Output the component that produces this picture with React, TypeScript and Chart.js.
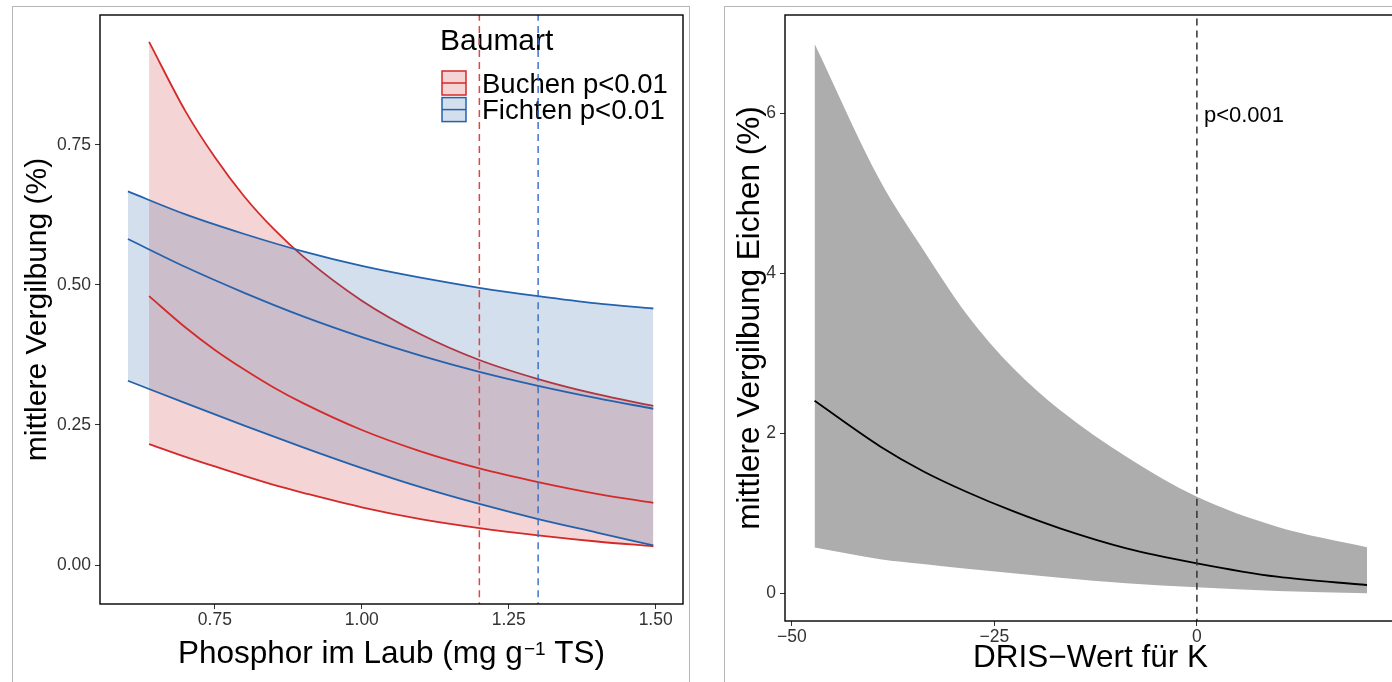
import React, { useEffect, useRef } from 'react';
import { Chart, registerables } from 'chart.js';

Chart.register(...registerables);

const FONT = "'Liberation Sans', Arial, Helvetica, sans-serif";

// ---------- left chart data (Phosphor im Laub) ----------
const BUCHEN_X = [0.638, 0.70, 0.75, 0.80, 0.85, 0.90, 1.00, 1.10, 1.20, 1.30, 1.40, 1.496];
const BUCHEN_UPPER = [0.934, 0.810, 0.728, 0.658, 0.600, 0.551, 0.472, 0.412, 0.366, 0.332, 0.305, 0.284];
const BUCHEN_MEAN = [0.480, 0.424, 0.384, 0.349, 0.317, 0.289, 0.241, 0.203, 0.1725, 0.148, 0.127, 0.111];
const BUCHEN_LOWER = [0.216, 0.193, 0.176, 0.159, 0.143, 0.129, 0.103, 0.082, 0.066, 0.053, 0.042, 0.0335];

const FICHTEN_X = [0.602, 0.70, 0.80, 0.90, 1.00, 1.10, 1.20, 1.30, 1.40, 1.496];
const FICHTEN_UPPER = [0.667, 0.626, 0.591, 0.560, 0.534, 0.513, 0.495, 0.480, 0.467, 0.458];
const FICHTEN_MEAN = [0.582, 0.532, 0.486, 0.444, 0.407, 0.374, 0.345, 0.320, 0.298, 0.279];
const FICHTEN_LOWER = [0.329, 0.289, 0.249, 0.210, 0.173, 0.139, 0.109, 0.082, 0.058, 0.035];

const THRESH_BUCHEN = 1.2;
const THRESH_FICHTEN = 1.3;

const P_X_TICKS = [0.75, 1.0, 1.25, 1.5];
const P_Y_TICKS = [0, 0.25, 0.5, 0.75];
const P_X_RANGE = [0.5545, 1.5465];
const P_Y_RANGE = [-0.0696, 0.982];

const LEGEND_TITLE = 'Baumart';
const LEGEND_LABELS = ['Buchen p<0.01', 'Fichten p<0.01'];

const LEFT_Y_TITLE = 'mittlere Vergilbung (%)';
const LEFT_X_TITLE_A = 'Phosphor im Laub (mg g';
const LEFT_X_TITLE_SUP = '\u22121';
const LEFT_X_TITLE_C = ' TS)';

// ---------- right chart data (DRIS-Wert für K) ----------
const EICHEN_X = [-47.2, -39.1, -33.8, -28.4, -22.7, -16.9, -8.7, 0, 9.9, 21.0];
const EICHEN_UPPER = [6.874, 5.16, 4.30, 3.49, 2.82, 2.295, 1.71, 1.21, 0.836, 0.579];
const EICHEN_MEAN = [2.41, 1.84, 1.53, 1.27, 1.03, 0.816, 0.566, 0.379, 0.211, 0.1075];
const EICHEN_LOWER = [0.576, 0.43, 0.37, 0.31, 0.255, 0.199, 0.129, 0.079, 0.033, 0.004];

const THRESH_K = 0;
const P_LABEL = 'p<0.001';
const P_LABEL_Y = 5.97;

const K_X_TICKS = [-50, -25, 0];
const K_Y_TICKS = [0, 2, 4, 6];
const K_X_RANGE = [-50.85, 24.58];
const K_Y_RANGE = [-0.3425, 7.2325];

const RIGHT_Y_TITLE = 'mittlere Vergilbung Eichen (%)';
const RIGHT_X_TITLE = 'DRIS\u2212Wert für K';

// ---------- styles ----------
const RED = '#d42a2a';
const BLUE = '#2562ae';
const RED_FILL = 'rgba(200,40,40,0.2)';
const BLUE_FILL = 'rgba(35,95,160,0.2)';
const RED_DASH = 'rgba(222,60,60,0.95)';
const BLUE_DASH = 'rgba(55,110,195,0.95)';

const zip = (xs: number[], ys: number[]) => xs.map((x, i) => ({ x, y: ys[i] }));

const tickFont = { family: FONT, size: 17.5 };

const boxPlugin = {
  id: 'panelBox',
  afterDatasetsDraw(chart: any) {
    const { ctx, chartArea: a } = chart;
    ctx.save();
    ctx.strokeStyle = '#000';
    ctx.lineWidth = 1.4;
    ctx.strokeRect(a.left, a.top, a.right - a.left, a.bottom - a.top);
    ctx.restore();
  },
};

const legendPlugin = {
  id: 'ggLegend',
  beforeDatasetsDraw(chart: any) {
    const { ctx } = chart;
    ctx.save();
    ctx.textBaseline = 'alphabetic';
    ctx.fillStyle = '#000';
    ctx.font = `30px ${FONT}`;
    ctx.fillText(LEGEND_TITLE, 440, 49.5);
    const fills = [RED_FILL, BLUE_FILL];
    const lines = [RED, BLUE];
    LEGEND_LABELS.forEach((lab, i) => {
      const y0 = 71 + i * 26.6;
      ctx.fillStyle = '#fff';
      ctx.fillRect(442, y0, 24, 24);
      ctx.fillStyle = fills[i];
      ctx.fillRect(442, y0, 24, 24);
      ctx.strokeStyle = lines[i];
      ctx.lineWidth = 1.5;
      ctx.strokeRect(442, y0, 24, 24);
      ctx.beginPath();
      ctx.moveTo(442, y0 + 12);
      ctx.lineTo(466, y0 + 12);
      ctx.stroke();
      ctx.fillStyle = '#000';
      ctx.font = `27.5px ${FONT}`;
      ctx.fillText(lab, 482, y0 + 21.8);
    });
    ctx.restore();
  },
};

const xTitlePlugin = {
  id: 'xTitleSup',
  afterDraw(chart: any) {
    const { ctx, chartArea } = chart;
    ctx.save();
    const main = `31.5px ${FONT}`;
    const sup = `19px ${FONT}`;
    ctx.font = main;
    const w1 = ctx.measureText(LEFT_X_TITLE_A).width;
    const w3 = ctx.measureText(LEFT_X_TITLE_C).width;
    ctx.font = sup;
    const w2 = ctx.measureText(LEFT_X_TITLE_SUP).width;
    let x = (chartArea.left + chartArea.right) / 2 - (w1 + w2 + w3 + 1) / 2;
    const base = 663;
    ctx.fillStyle = '#000';
    ctx.textBaseline = 'alphabetic';
    ctx.font = main;
    ctx.fillText(LEFT_X_TITLE_A, x, base);
    x += w1 + 1;
    ctx.font = sup;
    ctx.fillText(LEFT_X_TITLE_SUP, x, base - 8.5);
    x += w2;
    ctx.font = main;
    ctx.fillText(LEFT_X_TITLE_C, x, base);
    ctx.restore();
  },
};

const pLabelPlugin = {
  id: 'pLabel',
  afterDatasetsDraw(chart: any) {
    const { ctx } = chart;
    const x = chart.scales.x.getPixelForValue(THRESH_K) + 7;
    const y = chart.scales.y.getPixelForValue(P_LABEL_Y);
    ctx.save();
    ctx.fillStyle = '#000';
    ctx.font = `22px ${FONT}`;
    ctx.textBaseline = 'middle';
    ctx.fillText(P_LABEL, x, y);
    ctx.restore();
  },
};

const gridCfg = {
  display: true,
  drawOnChartArea: false,
  drawTicks: true,
  tickLength: 5,
  color: '#333',
  lineWidth: 1,
};

const lineDs = (data: any[], color: string, extra: any = {}) => ({
  data,
  borderColor: color,
  borderWidth: 1.8,
  pointRadius: 0,
  fill: false,
  cubicInterpolationMode: 'monotone',
  ...extra,
});

function leftConfig(): any {
  return {
    type: 'line',
    data: {
      datasets: [
        lineDs([{ x: THRESH_BUCHEN, y: -1 }, { x: THRESH_BUCHEN, y: 2 }], RED_DASH, { borderDash: [7, 5], borderWidth: 1.5, clip: 0 }),
        lineDs([{ x: THRESH_FICHTEN, y: -1 }, { x: THRESH_FICHTEN, y: 2 }], BLUE_DASH, { borderDash: [7, 5], borderWidth: 1.5, clip: 0 }),
        lineDs(zip(BUCHEN_X, BUCHEN_MEAN), RED),
        lineDs(zip(FICHTEN_X, FICHTEN_MEAN), BLUE),
        lineDs(zip(FICHTEN_X, FICHTEN_UPPER), BLUE, { fill: '+1', backgroundColor: BLUE_FILL }),
        lineDs(zip(FICHTEN_X, FICHTEN_LOWER), BLUE),
        lineDs(zip(BUCHEN_X, BUCHEN_UPPER), RED, { fill: '+1', backgroundColor: RED_FILL }),
        lineDs(zip(BUCHEN_X, BUCHEN_LOWER), RED),
      ],
    },
    options: {
      responsive: false,
      animation: false,
      devicePixelRatio: 1,
      layout: { padding: { top: 15, right: 17, left: 0, bottom: 0 } },
      plugins: { legend: { display: false }, tooltip: { enabled: false } },
      scales: {
        x: {
          type: 'linear',
          min: P_X_RANGE[0],
          max: P_X_RANGE[1],
          afterBuildTicks: (s: any) => { s.ticks = P_X_TICKS.map((v) => ({ value: v })); },
          afterFit: (s: any) => { s.height = 78; },
          ticks: { callback: (v: any) => Number(v).toFixed(2), color: '#333', font: tickFont, padding: 1, maxRotation: 0, autoSkip: false },
          grid: gridCfg,
          border: { display: false },
        },
        y: {
          type: 'linear',
          min: P_Y_RANGE[0],
          max: P_Y_RANGE[1],
          afterBuildTicks: (s: any) => { s.ticks = P_Y_TICKS.map((v) => ({ value: v })); },
          afterFit: (s: any) => { s.width = 100; },
          ticks: { callback: (v: any) => Number(v).toFixed(2), color: '#333', font: tickFont, padding: 4, autoSkip: false },
          grid: gridCfg,
          border: { display: false },
          title: { display: true, text: LEFT_Y_TITLE, color: '#000', font: { family: FONT, size: 30 }, padding: { top: 20, bottom: 0 } },
        },
      },
    },
    plugins: [legendPlugin, boxPlugin, xTitlePlugin],
  };
}

function rightConfig(): any {
  return {
    type: 'line',
    data: {
      datasets: [
        lineDs([{ x: THRESH_K, y: -1 }, { x: THRESH_K, y: 10 }], '#333', { borderDash: [7, 5], borderWidth: 1.5, clip: 0 }),
        lineDs(zip(EICHEN_X, EICHEN_MEAN), '#000', { borderWidth: 1.8 }),
        lineDs(zip(EICHEN_X, EICHEN_UPPER), 'rgba(0,0,0,0)', { borderWidth: 0, fill: '+1', backgroundColor: '#adadad' }),
        lineDs(zip(EICHEN_X, EICHEN_LOWER), 'rgba(0,0,0,0)', { borderWidth: 0 }),
      ],
    },
    options: {
      responsive: false,
      animation: false,
      devicePixelRatio: 1,
      layout: { padding: { top: 15, right: 4, left: 0, bottom: 0 } },
      plugins: { legend: { display: false }, tooltip: { enabled: false } },
      scales: {
        x: {
          type: 'linear',
          min: K_X_RANGE[0],
          max: K_X_RANGE[1],
          afterBuildTicks: (s: any) => { s.ticks = K_X_TICKS.map((v) => ({ value: v })); },
          afterFit: (s: any) => { s.height = 61; },
          ticks: { callback: (v: any) => (Number(v) < 0 ? '\u2212' + Math.abs(Number(v)) : String(v)), color: '#333', font: tickFont, padding: 1, maxRotation: 0, autoSkip: false },
          grid: gridCfg,
          border: { display: false },
          title: { display: true, text: RIGHT_X_TITLE, color: '#000', font: { family: FONT, size: 31.5 }, padding: { top: 0, bottom: 5 } },
        },
        y: {
          type: 'linear',
          min: K_Y_RANGE[0],
          max: K_Y_RANGE[1],
          afterBuildTicks: (s: any) => { s.ticks = K_Y_TICKS.map((v) => ({ value: v })); },
          afterFit: (s: any) => { s.width = 85; },
          ticks: { callback: (v: any) => String(v), color: '#333', font: tickFont, padding: 4, autoSkip: false },
          grid: gridCfg,
          border: { display: false },
          title: { display: true, text: RIGHT_Y_TITLE, color: '#000', font: { family: FONT, size: 31.5 }, padding: { top: 31, bottom: 0 } },
        },
      },
    },
    plugins: [boxPlugin, pLabelPlugin],
  };
}

export default function App() {
  const leftRef = useRef<HTMLCanvasElement>(null);
  const rightRef = useRef<HTMLCanvasElement>(null);

  useEffect(() => {
    const c1 = new Chart(leftRef.current as HTMLCanvasElement, leftConfig());
    const c2 = new Chart(rightRef.current as HTMLCanvasElement, rightConfig());
    return () => {
      c1.destroy();
      c2.destroy();
    };
  }, []);

  return (
    <div style={{ position: 'fixed', left: 0, top: 0, width: 1392, height: 682, overflow: 'hidden', background: '#fff' }}>
      <div style={{ position: 'absolute', left: 12, top: 6, width: 678, height: 740, border: '1px solid #b5b5b5', boxSizing: 'border-box' }} />
      <div style={{ position: 'absolute', left: 724, top: 6, width: 740, height: 740, border: '1px solid #b5b5b5', boxSizing: 'border-box' }} />
      <canvas ref={leftRef} width={700} height={682} style={{ position: 'absolute', left: 0, top: 0, width: 700, height: 682 }} />
      <canvas ref={rightRef} width={700} height={682} style={{ position: 'absolute', left: 700, top: 0, width: 700, height: 682 }} />
    </div>
  );
}
